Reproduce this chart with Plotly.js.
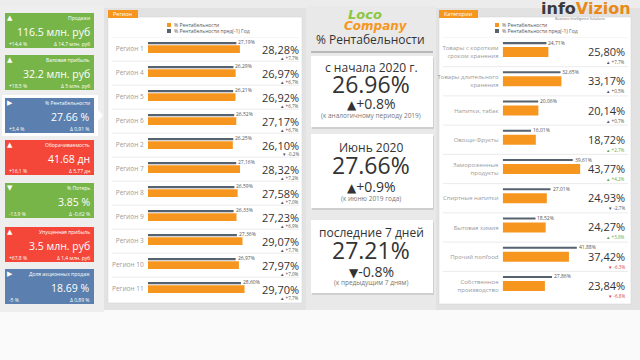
<!DOCTYPE html>
<html><head><meta charset="utf-8">
<script src="https://cdn.plot.ly/plotly-3.0.1.min.js"></script>
<style>html,body{margin:0;padding:0;background:#fff;} #chart{width:640px;height:360px;}</style>
</head><body><div id="chart"></div>
<script>
// ---------- DATA ----------
const regions = ['Регион 1','Регион 4','Регион 5','Регион 6','Регион 2','Регион 7','Регион 8','Регион 9','Регион 3','Регион 10','Регион 11'];
const regionCurrent = [28.28,26.97,26.92,27.17,26.10,28.32,27.58,27.23,29.07,27.97,29.70];
const regionPrev = [27.19,26.29,26.21,26.52,26.25,27.16,26.59,26.33,27.36,26.97,28.60];
const regionDelta = [7.7,6.7,6.7,6.7,-0.2,7.2,7.0,6.9,7.7,7.0,7.7];

const categories = ['Товары с коротким<br>сроком хранения','Товары длительного<br>хранения','Напитки, табак','Овощи-Фрукты','Замороженные<br>продукты','Спиртные напитки','Бытовая химия','Прочий nonfood','Собственное<br>производство'];
const catCurrent = [25.80,33.17,20.14,18.72,43.77,24.93,24.27,37.42,23.84];
const catPrev = [24.71,32.65,20.06,16.01,39.61,27.01,18.52,41.88,27.86];
const catDelta = [7.7,0.5,0.7,2.7,4.2,-2.7,3.8,-6.3,-6.8];
const catDeltaStatus = ['n','n','n','g','g','n','g','r','r'];

const kpiTitles = ['Продажи','Валовая прибыль','% Рентабельности','Оборачиваемость','% Потерь','Упущенная прибыль','Доля акционных продаж'];
const kpiValues = ['116.5 млн. руб','32.2 млн. руб','27.66 %','41.68 дн','3.85 %','3.5 млн. руб','18.69 %'];
const kpiChange = ['+14,4 %','+18,5 %','+3,4 %','+16,1 %','-13,9 %','+67,8 %','-5 %'];
const kpiDelta = ['Δ 14,7 млн. руб','Δ 5 млн. руб','Δ 0,91 %','Δ 5,77 дн','Δ -0,62 %','Δ 1,4 млн. руб','Δ 0,89 %'];
const kpiIcons = ['▲','▲','▶','▲','▼','▲','▶'];
const kpiStatus = ['g','g','b','r','g','r','b'];

const periodTitles = ['с начала 2020 г.','Июнь 2020','последние 7 дней'];
const periodValues = ['26.96%','27.66%','27.21%'];
const periodDeltas = [0.8,0.9,-0.8];
const periodNotes = ['(к аналогичному периоду 2019)','(к июню 2019 года)','(к предыдущим 7 дням)'];

const legendLabels = ['% Рентабельности','% Рентабельности пред(-1) Год'];

// ---------- HELPERS ----------
const W=640,H=360;
const X=p=>p/W, Y=p=>1-p/H;
const shapes=[], ann=[];
const FONT='Open Sans';
const ORANGE='#f7961e', SLATE='#56626e';
const CARD={g:'#78b548',r:'#f4473a',b:'#5b7fae'};
function rect(x0,y0,x1,y1,fill,line,layer){shapes.push({type:'rect',xref:'paper',yref:'paper',x0:X(x0),x1:X(x1),y0:Y(y1),y1:Y(y0),fillcolor:fill,line:line||{width:0},layer:layer||'below'});}
function txt(x,y,text,size,color,anchor,extra){ann.push(Object.assign({xref:'paper',yref:'paper',x:X(x),y:Y(y),text:text,showarrow:false,xanchor:anchor||'center',yanchor:'middle',borderpad:0,font:{size:size,color:color,family:FONT}},extra||{}));}
const pct=v=>v.toFixed(2).replace('.',',')+'%';
const dfmt=v=>(v<0?'▼ ':'▲ ')+(v<0?'-':'+')+Math.abs(v).toFixed(1).replace('.',',')+'%';

// ---------- BACKGROUND ----------
rect(0,0,640,310,'#e2e2e2');
rect(0,310,640,360,'#fafafa');
rect(0,0,640,8,'#ececec');
rect(0,6,104,312,'#eeeeee');

// ---------- KPI CARDS ----------
const cardTops=[13,55,98,140,183,227,269];
cardTops.forEach((t,i)=>{
  if(i===2){
    rect(2,t-3,98,t+38,'#ffffff');
    shapes.push({type:'path',xref:'paper',yref:'paper',path:`M ${X(98)},${Y(t+12)} L ${X(103)},${Y(t+17.5)} L ${X(98)},${Y(t+23)} Z`,fillcolor:'#ffffff',line:{width:0},layer:'below'});
  }
  rect(5,t,94,t+35,CARD[kpiStatus[i]]);
  txt(10,t+5,kpiIcons[i],7,'#ffffff','center',{font:{size:7,color:'#ffffff',family:'DejaVu Sans'}});
  txt(91,t+5,kpiTitles[i],5,'#ffffff','right');
  txt(91,t+19,kpiValues[i],10.5,'#ffffff','right');
  txt(8,t+31,kpiChange[i],5,'#ffffff','left');
  txt(91,t+31,kpiDelta[i],5,'#ffffff','right');
});

// ---------- REGION PANEL ----------
rect(108,17,302,303,'#ffffff',{color:'#d0d0d0',width:0.5});
rect(108,10,138,18,ORANGE);
txt(112,14,'Регион',5.5,'#ffffff','left');
rect(167,23,171,27,ORANGE); rect(167,29,171,33,SLATE);
txt(173,25,legendLabels[0],5,'#555','left'); txt(173,31,legendLabels[1],5,'#555','left');

// ---------- CATEGORY PANEL ----------
rect(439,17,631,304,'#ffffff',{color:'#d0d0d0',width:0.5});
rect(439,10,478,18,ORANGE);
txt(443,14,'Категории',5.5,'#ffffff','left');
rect(495,23,499,27,ORANGE); rect(495,29,499,33,SLATE);
txt(501,25,legendLabels[0],5,'#555','left'); txt(501,31,legendLabels[1],5,'#555','left');

regions.forEach((r,i)=>{
  shapes.push({type:'line',xref:'paper',yref:'y',x0:X(112),x1:X(299),y0:i-0.5,y1:i-0.5,line:{color:'#e6e6e6',width:0.8},layer:'below'});
  ann.push({xref:'x',yref:'y',x:regionPrev[i],y:i,text:pct(regionPrev[i]),showarrow:false,xanchor:'left',yanchor:'middle',borderpad:0,xshift:1,yshift:7.5,font:{size:5,color:'#555',family:FONT}});
  ann.push({xref:'paper',yref:'y',x:X(300),y:i,text:pct(regionCurrent[i]),showarrow:false,xanchor:'right',yanchor:'middle',borderpad:0,yshift:0,font:{size:11,color:'#333',family:FONT}});
  ann.push({xref:'paper',yref:'y',x:X(300),y:i,text:dfmt(regionDelta[i]),showarrow:false,xanchor:'right',yanchor:'middle',borderpad:0,yshift:-9,font:{size:4.5,color:'#555',family:FONT}});
});
const statusColor={n:'#555',g:'#6aa84f',r:'#d64545'};
categories.forEach((c,i)=>{
  shapes.push({type:'line',xref:'paper',yref:'y2',x0:X(443),x1:X(628),y0:i-0.5,y1:i-0.5,line:{color:'#e6e6e6',width:0.8},layer:'below'});
  ann.push({xref:'x2',yref:'y2',x:catPrev[i],y:i,text:pct(catPrev[i]),showarrow:false,xanchor:'left',yanchor:'middle',borderpad:0,xshift:1,yshift:9.5,font:{size:5,color:'#555',family:FONT}});
  ann.push({xref:'paper',yref:'y2',x:X(626),y:i,text:pct(catCurrent[i]),showarrow:false,xanchor:'right',yanchor:'middle',borderpad:0,yshift:0.5,font:{size:11,color:'#333',family:FONT}});
  ann.push({xref:'paper',yref:'y2',x:X(626),y:i,text:dfmt(catDelta[i]),showarrow:false,xanchor:'right',yanchor:'middle',borderpad:0,yshift:-10,font:{size:4.5,color:statusColor[catDeltaStatus[i]],family:FONT}});
});

// ---------- CENTER ----------
rect(306,6,436,310,'#e9e9e9');
txt(365,15,'<b><i>Loco</i></b>',13,'#8dc63f','center',{font:{size:13,color:'#8dc63f',family:'DejaVu Sans'}});
txt(376,26,'<b><i>Company</i></b>',12,ORANGE,'center',{font:{size:12,color:ORANGE,family:'DejaVu Sans'}});
txt(370,39,'% Рентабельности',12,'#333','center');
shapes.push({type:'line',xref:'paper',yref:'paper',x0:X(311),x1:X(433),y0:Y(52),y1:Y(52),line:{color:'#888',width:1.2},layer:'below'});
const boxes=[{t:56,b:127,ys:[67,84,103,116]},{t:134,b:208,ys:[147,165,186,198]},{t:220,b:293,ys:[232,250,271,282]}];
boxes.forEach((bx,i)=>{
  rect(312,bx.t+2,434,bx.b+2,'#cfcfcf');
  rect(311,bx.t,433,bx.b,'#ffffff');
  txt(371,bx.ys[0],periodTitles[i],12,'#333','center');
  txt(371,bx.ys[1],periodValues[i],23,'#333','center');
  const d=periodDeltas[i];
  txt(371,bx.ys[2],'<span style="font-family:DejaVu Sans;font-size:12px">'+(d<0?'▼':'▲')+'</span>'+(d<0?'-':'+')+Math.abs(d).toFixed(1)+'%',14,'#333','center');
  txt(371,bx.ys[3],periodNotes[i],6.5,'#777','center');
});

// ---------- LOGO ----------
txt(586,8,'<b><span style="color:#3a3a3a">info</span><span style="color:#e8891a">Vizion</span></b>',16,'#3a3a3a','center',{font:{size:16,color:'#3a3a3a',family:'DejaVu Sans'}});
txt(580,18,'Business Intelligence Solutions',3.5,'#777','center');

// ---------- TRACES ----------
const traces=[
 {type:'bar',orientation:'h',y:regions.map((_,i)=>i),x:regionPrev,xaxis:'x',yaxis:'y',marker:{color:SLATE},width:0.09,offset:-0.295,hoverinfo:'skip'},
 {type:'bar',orientation:'h',y:regions.map((_,i)=>i),x:regionCurrent,xaxis:'x',yaxis:'y',marker:{color:ORANGE},width:0.32,offset:-0.16,hoverinfo:'skip'},
 {type:'bar',orientation:'h',y:categories.map((_,i)=>i),x:catPrev,xaxis:'x2',yaxis:'y2',marker:{color:SLATE},width:0.075,offset:-0.345,hoverinfo:'skip'},
 {type:'bar',orientation:'h',y:categories.map((_,i)=>i),x:catCurrent,xaxis:'x2',yaxis:'y2',marker:{color:ORANGE},width:0.34,offset:-0.17,hoverinfo:'skip'}
];
const layout={
  width:640,height:360,margin:{l:0,r:0,t:0,b:0},
  paper_bgcolor:'#ffffff',plot_bgcolor:'rgba(0,0,0,0)',
  showlegend:false,barmode:'overlay',
  font:{family:FONT},
  xaxis:{domain:[X(148),X(300)],range:[0,46.77],visible:false,fixedrange:true},
  yaxis:{domain:[Y(301.2),Y(37.2)],range:[10.5,-0.5],anchor:'x',showgrid:false,zeroline:false,showline:false,
    tickmode:'array',tickvals:regions.map((_,i)=>i),ticktext:regions,ticks:'outside',ticklen:2,tickcolor:'rgba(0,0,0,0)',
    tickfont:{size:6.5,color:'#9a9a9a',family:FONT}},
  xaxis2:{domain:[X(502.7),X(626)],range:[0,69.66],visible:false,anchor:'y2',fixedrange:true},
  yaxis2:{domain:[Y(300.6),Y(37.4)],range:[8.5,-0.5],anchor:'x2',showgrid:false,zeroline:false,showline:false,
    tickmode:'array',tickvals:categories.map((_,i)=>i),ticktext:categories,ticks:'outside',ticklen:2,tickcolor:'rgba(0,0,0,0)',
    tickfont:{size:6,color:'#9a9a9a',family:FONT}},
  shapes:shapes,annotations:ann
};
Plotly.newPlot('chart',traces,layout,{staticPlot:true,displayModeBar:false});
</script></body></html>
